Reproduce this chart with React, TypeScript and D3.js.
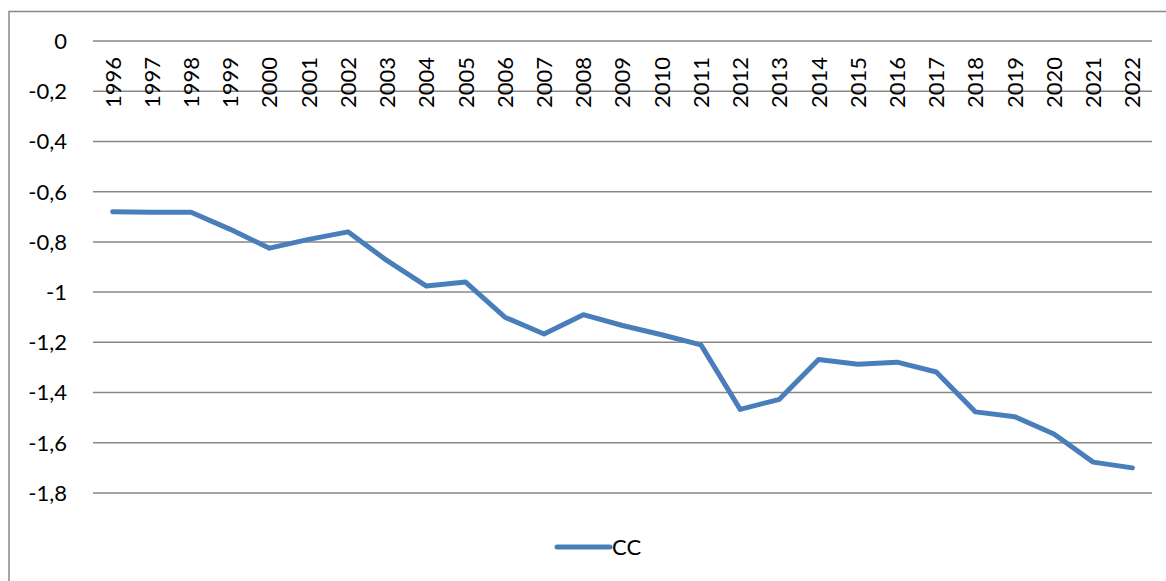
import React, { useEffect, useRef } from 'react';
import * as d3 from 'd3';

// années et valeurs de la série CC
const years = [
  '1996', '1997', '1998', '1999', '2000', '2001', '2002', '2003', '2004',
  '2005', '2006', '2007', '2008', '2009', '2010', '2011', '2012', '2013',
  '2014', '2015', '2016', '2017', '2018', '2019', '2020', '2021', '2022',
];
const ccValues = [
  -0.68, -0.682, -0.682, -0.75, -0.825, -0.79, -0.76, -0.875, -0.976,
  -0.96, -1.1, -1.167, -1.09, -1.133, -1.17, -1.21, -1.467, -1.427,
  -1.268, -1.287, -1.279, -1.318, -1.477, -1.496, -1.565, -1.677, -1.7,
];
const yTicks = [0, -0.2, -0.4, -0.6, -0.8, -1, -1.2, -1.4, -1.6, -1.8];
const seriesName = 'CC';

const W = 1166;
const H = 581;
const FONT = 'Lato, "Open Sans", sans-serif';
const BLUE = '#4A7EBB';
const GRID = '#878787';

const App = () => {
  const ref = useRef<SVGSVGElement>(null);

  useEffect(() => {
    const svg = d3.select(ref.current);
    svg.selectAll('*').remove();

    // zone du graphique
    const left = 93;
    const right = 1152;
    const top = 41;
    const bottom = 493;

    const x = d3.scaleBand().domain(years).range([left, right]);
    const y = d3.scaleLinear().domain([0, -1.8]).range([top, bottom]);

    // cadre
    svg.append('path')
      .attr('d', `M9,${H + 5} L9,11.5 L${W + 5},11.5`)
      .attr('fill', 'none')
      .attr('stroke', '#898989')
      .attr('stroke-width', 1.5);

    // lignes de grille
    svg.append('g')
      .selectAll('line')
      .data(yTicks)
      .join('line')
      .attr('x1', left)
      .attr('x2', right)
      .attr('y1', d => y(d))
      .attr('y2', d => y(d))
      .attr('stroke', GRID)
      .attr('stroke-width', 1.5);

    // étiquettes de l'axe vertical (format français, sans zéro inutile)
    const fmt = (d: number) => String(d).replace('.', ',');
    svg.append('g')
      .selectAll('text')
      .data(yTicks)
      .join('text')
      .attr('x', 67)
      .attr('y', d => y(d))
      .attr('dy', '0.36em')
      .attr('text-anchor', 'end')
      .attr('font-family', FONT)
      .attr('font-size', 22)
      .attr('fill', '#000')
      .text(d => fmt(d));

    // étiquettes des années (verticales)
    svg.append('g')
      .selectAll('text')
      .data(years)
      .join('text')
      .attr('transform', d => `translate(${(x(d) as number) + x.bandwidth() / 2},${y(0) + 16}) rotate(-90)`)
      .attr('dy', '0.36em')
      .attr('text-anchor', 'end')
      .attr('font-family', FONT)
      .attr('font-size', 22)
      .attr('fill', '#000')
      .text(d => d);

    // courbe
    const line = d3.line<number>()
      .x((_, i) => (x(years[i]) as number) + x.bandwidth() / 2)
      .y(d => y(d));

    svg.append('path')
      .datum(ccValues)
      .attr('fill', 'none')
      .attr('stroke', BLUE)
      .attr('stroke-width', 5)
      .attr('stroke-linejoin', 'round')
      .attr('stroke-linecap', 'round')
      .attr('d', line);

    // légende
    const lg = svg.append('g').attr('transform', 'translate(557,547)');
    lg.append('line')
      .attr('x1', 0)
      .attr('x2', 53)
      .attr('stroke', BLUE)
      .attr('stroke-width', 5)
      .attr('stroke-linecap', 'round');
    lg.append('text')
      .attr('x', 55)
      .attr('dy', '0.36em')
      .attr('font-family', FONT)
      .attr('font-size', 22)
      .attr('fill', '#000')
      .text(seriesName);
  }, []);

  return (
    <svg
      ref={ref}
      width={W}
      height={H}
      style={{ position: 'absolute', left: 0, top: 0, background: '#fff' }}
    />
  );
};

export default App;
